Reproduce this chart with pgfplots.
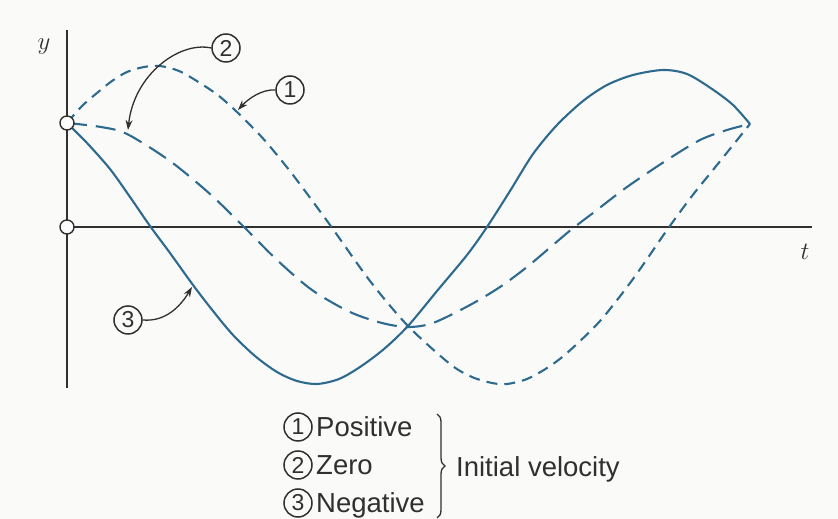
\documentclass[border=0pt]{standalone}
\usepackage{pgfplots}
\pgfplotsset{compat=1.18}
\usepackage{fontspec}
\setmainfont{Liberation Sans}
\usetikzlibrary{arrows.meta,decorations.pathreplacing}

\definecolor{paper}{RGB}{250,250,249}
\definecolor{curve}{RGB}{46,106,142}
\definecolor{ink}{RGB}{48,48,48}

% displacement y(t) for the three initial velocities
\pgfplotstableread{
t y
0 104
15 121
30 134
45 146
60 155
77 160
93 161
112 156
133 144
152 131
170 115
185 100
200 84
226 52
263 2
303 -54
341 -99
383 -137
405 -150
425 -156
440 -157
460 -152
480 -141
500 -126
533 -94
566 -52
600 -3
625 31
650 62
683 103
}\positive
\pgfplotstableread{
t y
0 104
34 100
60 93
103 66
143 33
176 1
210 -33
245 -63
283 -85
315 -96
341 -100
366 -96
403 -78
433 -60
460 -40
486 -18
505 -2
526 14
560 40
600 67
633 87
660 97
683 103
}\zero
\pgfplotstableread{
t y
0 104
20 84
43 58
63 30
83 1
103 -26
126 -58
146 -84
166 -108
188 -129
210 -145
230 -154
250 -157
272 -152
293 -140
317 -122
341 -99
370 -64
400 -28
420 0
443 36
466 73
490 102
516 126
540 142
566 152
596 157
620 153
645 138
666 122
683 103
}\negative

\begin{document}
\begin{tikzpicture}[x=1pt,y=1pt]
\fill[paper] (0,0) rectangle (838,519);
\useasboundingbox (0,0) rectangle (838,519);
\begin{axis}[
  at={(67,131)}, anchor=south west,
  x=1pt, y=1pt,
  xmin=0, xmax=745, ymin=-161, ymax=197,
  axis lines*=middle,
  axis line style={ink, line width=1.5pt},
  xtick=\empty, ytick=\empty,
  clip=false,
]
\addplot[curve, line width=2.1pt, smooth, dash pattern=on 11pt off 7pt] table {\positive};
\addplot[curve, line width=2.1pt, smooth, dash pattern=on 20pt off 9pt] table {\zero};
\addplot[curve, line width=2.1pt, smooth] table {\negative};
\addplot[only marks, mark=*, mark size=7pt,
  mark options={fill=white, draw=ink, line width=1.4pt}] coordinates {(0,104) (0,0)};
\end{axis}

% axis names
\node[ink] at (44,472) {\fontsize{26}{26}\selectfont$y$};
\node[ink] at (805,267) {\fontsize{26}{26}\selectfont$t$};

% curve callouts
\tikzset{num/.style={circle, draw=ink, text=ink, line width=1.5pt, minimum size=28pt, inner sep=0pt, font=\fontsize{23}{23}\selectfont}}
\node[num] (c2) at (226,471) {2};
\draw[ink, line width=1.3pt, -{Stealth[length=10pt,width=7pt]}] (c2.west) .. controls (180,478) and (134,445) .. (128,389);
\node[num] (c1) at (290,429) {1};
\draw[ink, line width=1.3pt, -{Stealth[length=10pt,width=7pt]}] (c1.west) .. controls (262,430) and (248,420) .. (238,409);
\node[num] (c3) at (128,199) {3};
\draw[ink, line width=1.3pt, -{Stealth[length=10pt,width=7pt]}] (c3.east) .. controls (165,197) and (180,212) .. (192,232);

% key
\tikzset{lab/.style={anchor=west, text=ink, inner sep=0pt, text height=19pt, text depth=0pt, font=\fontsize{27.5}{27.5}\selectfont}}
\node[num] at (298,92) {1};
\node[num] at (298,54) {2};
\node[num] at (298,16) {3};
\node[lab] at (316,92) {Positive};
\node[lab] at (316,54) {Zero};
\node[lab] at (316,16) {Negative};
\draw[ink, line width=1.3pt, decorate, decoration={brace, amplitude=8pt}] (437,105) -- (437,1);
\node[lab] at (456,52) {Initial velocity};
\end{tikzpicture}
\end{document}
